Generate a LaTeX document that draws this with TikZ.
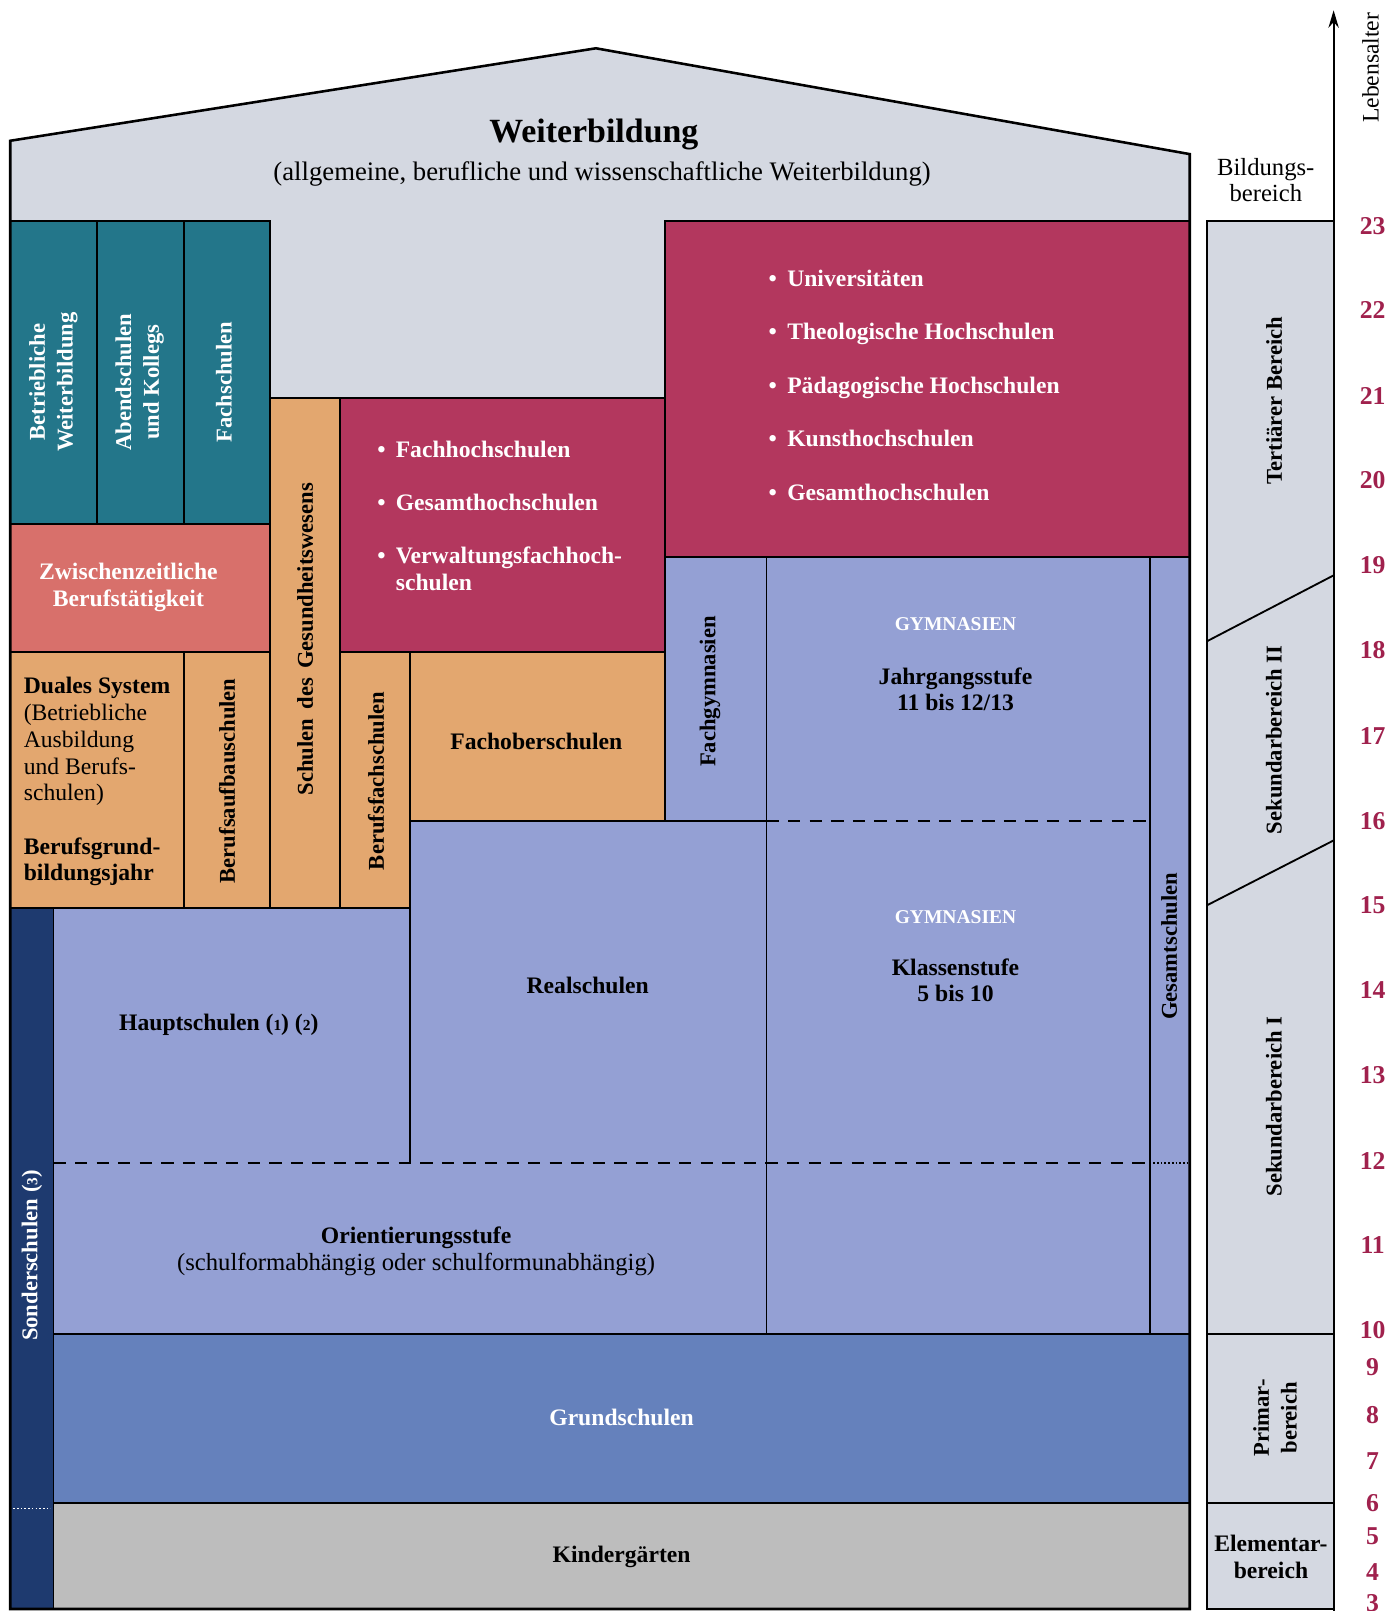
\documentclass[tikz,border=0pt]{standalone}
\usepackage{fontspec}
\setmainfont{Liberation Serif}
\usetikzlibrary{arrows.meta}
\definecolor{housegray}{HTML}{D4D8E1}
\definecolor{tealc}{HTML}{23768A}
\definecolor{salmonc}{HTML}{D8706B}
\definecolor{orangec}{HTML}{E3A76F}
\definecolor{crimsonc}{HTML}{B3375E}
\definecolor{peric}{HTML}{94A0D4}
\definecolor{grundc}{HTML}{6581BC}
\definecolor{navyc}{HTML}{1E3A6F}
\definecolor{kgrayc}{HTML}{BDBDBD}
\definecolor{agec}{HTML}{A0214D}
\newcommand{\smnum}[1]{{\fontsize{15}{15}\selectfont #1}}
\newcommand{\myblt}{\textbullet\hspace{10pt}}
\begin{document}
\begin{tikzpicture}[x=1pt,y=-1pt,
  box/.style={draw=black, line width=1.8pt},
  lab/.style={font=\fontsize{23}{26}\selectfont\bfseries, align=center, inner sep=0pt},
  labw/.style={lab, text=white},
  rlab/.style={lab, font=\fontsize{22}{27}\selectfont\bfseries, rotate=90},
  rlabw/.style={rlab, text=white},
  reg/.style={font=\fontsize{24}{25}\selectfont, align=center, inner sep=0pt},
  age/.style={font=\fontsize{25}{25}\selectfont\bfseries, text=agec, inner sep=0pt},
  dashline/.style={line width=2.2pt, dash pattern=on 12pt off 9pt},
  dotline/.style={line width=1.6pt, dash pattern=on 1.6pt off 2pt}
]
\clip (0,0) rectangle (1360,1568);
\fill[white] (0,0) rectangle (1360,1568);

% house body
\fill[housegray] (10,1566) -- (10,137) -- (580,47) -- (1158,150) -- (1158,1566) -- cycle;

% teal columns
\draw[box, fill=tealc] (10,215) rectangle (94,510);
\draw[box, fill=tealc] (94,215) rectangle (179,510);
\draw[box, fill=tealc] (179,215) rectangle (263,510);
% salmon
\draw[box, fill=salmonc] (10,510) rectangle (263,635);
% orange boxes
\draw[box, fill=orangec] (10,635) rectangle (179,884);
\draw[box, fill=orangec] (179,635) rectangle (263,884);
\draw[box, fill=orangec] (263,387) rectangle (331,884);
\draw[box, fill=orangec] (331,635) rectangle (399,884);
\draw[box, fill=orangec] (399,635) rectangle (647,799);
% crimson boxes
\draw[box, fill=crimsonc] (331,387) rectangle (647,635);
\draw[box, fill=crimsonc] (647,215) rectangle (1158,542);
% periwinkle area
\fill[peric] (52,884) -- (399,884) -- (399,799) -- (647,799) -- (647,542) -- (1158,542) -- (1158,1298) -- (52,1298) -- cycle;
\draw[box] (647,542) -- (1158,542);
\draw[box] (647,542) -- (647,799);
\draw[box] (399,799) -- (746,799);
\draw[box] (399,799) -- (399,1132);
\draw[box] (746,542) -- (746,1298);
\draw[box] (1119,542) -- (1119,1298);
\draw[box] (52,884) -- (399,884);
\draw[dashline] (746,799) -- (1119,799);
\draw[dashline] (52,1132) -- (1119,1132);
\draw[dotline] (1119,1132) -- (1156,1132);
% Grundschulen, Kindergarten
\draw[box, fill=grundc] (52,1298) rectangle (1158,1463);
\draw[box, fill=kgrayc] (52,1463) rectangle (1158,1566);
% Sonderschulen
\draw[box, fill=navyc] (10,884) rectangle (52,1566);
\draw[dotline, draw=white, line width=1.4pt] (13,1468) -- (49,1468);

% house outline
\draw[line width=2.5pt, line join=miter] (10,1566) -- (10,137) -- (580,47) -- (1158,150) -- (1158,1566) -- cycle;

% right column
\draw[box, fill=housegray] (1175,215) rectangle (1298,1566);
\draw[box] (1175,624) -- (1298,560);
\draw[box] (1175,881) -- (1298,818);
\draw[box] (1175,1298) -- (1298,1298);
\draw[box] (1175,1463) -- (1298,1463);
\coordinate (axbot) at (1298,1568);
\coordinate (axtop) at (1298,10);
\draw[line width=2pt, -{Stealth[length=17pt,width=10pt]}] (axbot) -- (axtop);

% texts: roof
\node[lab, font=\fontsize{33}{36}\selectfont\bfseries] (title) at (578,131) {Weiterbildung};
\node[reg, font=\fontsize{26}{28}\selectfont] (subtitle) at (586,169) {(allgemeine, berufliche und wissenschaftliche Weiterbildung)};

% teal texts
\node[rlabw] (betrw) at (52,372) {Betriebliche\\Weiterbildung};
\node[rlabw] (abend) at (136,372) {Abendschulen\\und Kollegs};
\node[rlabw] (fachs) at (218,372) {Fachschulen};
\node[labw] (zwisch) at (125,572) {Zwischenzeitliche\\Berufstätigkeit};

% orange texts
\node[lab, align=left, anchor=west] (duales) at (23,761) {Duales System\\\mdseries(Betriebliche\\\mdseries Ausbildung\\\mdseries und Berufs-\\\mdseries schulen)\\[26pt]Berufsgrund-\\bildungsjahr};
\node[rlab] (baufbau) at (221,760) {Berufsaufbauschulen};
\node[rlab] (gesund) at (297,622) {Schulen\hspace{9pt}des\hspace{9pt}Gesundheitswesens};
\node[rlab] (bfach) at (366,760) {Berufsfachschulen};
\node[lab] (fachober) at (522,722) {Fachoberschulen};

% crimson texts
\node[labw, align=left, anchor=west] (fhlist) at (367,502) {\myblt Fachhochschulen\\[26pt]\myblt Gesamthochschulen\\[26pt]\myblt Verwaltungsfachhoch-\\\phantom{\myblt}schulen};
\node[labw, align=left, anchor=west] (unilist) at (748,375) {\myblt Universitäten\\[26pt]\myblt Theologische Hochschulen\\[26pt]\myblt Pädagogische Hochschulen\\[26pt]\myblt Kunsthochschulen\\[26pt]\myblt Gesamthochschulen};

% blue texts
\node[rlab] (fachgym) at (691,673) {Fachgymnasien};
\node[labw, font=\fontsize{19}{20}\selectfont\bfseries] (gym1) at (930,607) {GYMNASIEN};
\node[lab] (jahrg) at (930,671) {Jahrgangsstufe\\11 bis 12/13};
\node[labw, font=\fontsize{19}{20}\selectfont\bfseries] (gym2) at (930,893) {GYMNASIEN};
\node[lab] (klass) at (930,954) {Klassenstufe\\5 bis 10};
\node[rlab] (gesamt) at (1138,921) {Gesamtschulen};
\node[lab] (real) at (572,959) {Realschulen};
\node[lab] (haupt) at (213,997) {Hauptschulen (\smnum{1}) (\smnum{2})};
\node[lab] (orient) at (405,1205) {Orientierungsstufe};
\node[reg] (orientsub) at (405,1231) {(schulformabhängig oder schulformunabhängig)};
\node[labw] (grund) at (605,1380) {Grundschulen};
\node[lab] (kinder) at (605,1515) {Kindergärten};
\node[rlabw] (sonder) at (31,1222) {Sonderschulen\hspace{6pt}(\smnum{3})};

% right side texts
\node[reg] (bildb) at (1232,175) {Bildungs-\\bereich};
\node[rlab] (tert) at (1240,390) {Tertiärer Bereich};
\node[rlab] (sek2) at (1240,720) {Sekundarbereich II};
\node[rlab] (sek1) at (1240,1077) {Sekundarbereich I};
\node[rlab] (prim) at (1241,1380) {Primar-\\bereich};
\node[lab] (elem) at (1237,1515) {Elementar-\\bereich};
\node[reg, rotate=90, font=\fontsize{23}{25}\selectfont] (leben) at (1334,66) {Lebensalter};

% ages
\foreach \a/\yy in {23/220,22/302,21/385,20/467,19/550,18/633,17/716,16/799,15/881,14/964,13/1046,12/1130,11/1212,10/1295,9/1331,8/1377,7/1422,6/1463,5/1495,4/1530,3/1560}
  \node[age] (age\a) at (1336,\yy) {\a};
\end{tikzpicture}
\end{document}
